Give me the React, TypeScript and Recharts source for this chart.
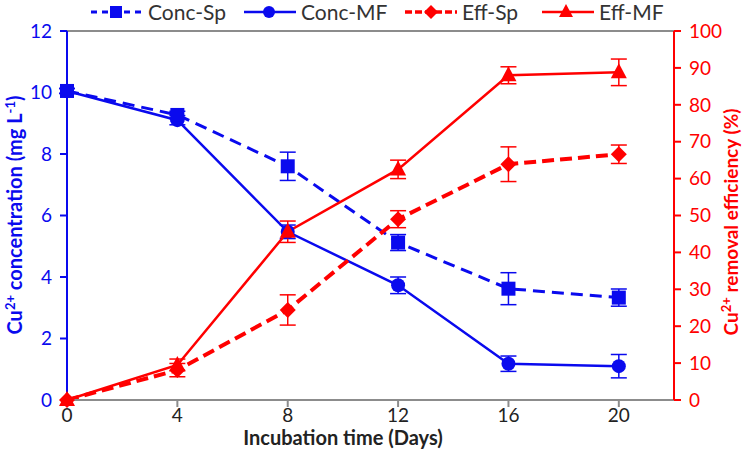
import React from 'react';
import {
  LineChart,
  Line,
  XAxis,
  YAxis,
  ErrorBar,
  ReferenceLine,
} from 'recharts';

const days = [0, 4, 8, 12, 16, 20];
const concSp = [10.05, 9.27, 7.6, 5.12, 3.62, 3.33];
const concSpErr = [0.08, 0.12, 0.46, 0.26, 0.52, 0.28];
const concMF = [10.05, 9.1, 5.47, 3.73, 1.18, 1.1];
const concMFErr = [0.08, 0.15, 0.22, 0.27, 0.25, 0.38];
const effSp = [0, 8.1, 24.4, 49, 63.9, 66.6];
const effSpErr = [0, 1.8, 4.1, 2.3, 4.7, 2.5];
const effMF = [0, 9.5, 45.6, 62.5, 88, 88.8];
const effMFErr = [0, 1.6, 2.9, 2.5, 2.3, 3.6];

const xTicks = [0, 4, 8, 12, 16, 20];
const leftTicks = [0, 2, 4, 6, 8, 10, 12];
const rightTicks = [0, 10, 20, 30, 40, 50, 60, 70, 80, 90, 100];

const BLUE = '#0a0aee';
const RED = '#ff0000';
const FONT = 'Lato, "Open Sans", sans-serif';

const data = days.map((d, i) => ({
  day: d,
  concSp: concSp[i],
  concSpErr: concSpErr[i],
  concMF: concMF[i],
  concMFErr: concMFErr[i],
  effSp: effSp[i],
  effSpErr: effSpErr[i],
  effMF: effMF[i],
  effMFErr: effMFErr[i],
}));

// marker shapes
const square = (props: any) => (
  <rect key={`sq-${props.index}`} x={props.cx - 7} y={props.cy - 7} width={14} height={14} fill={BLUE} />
);
const circle = (props: any) => (
  <circle key={`ci-${props.index}`} cx={props.cx} cy={props.cy} r={7} fill={BLUE} />
);
const diamond = (props: any) => {
  const { cx, cy } = props;
  return (
    <path key={`di-${props.index}`} d={`M${cx},${cy - 8} L${cx + 8},${cy} L${cx},${cy + 8} L${cx - 8},${cy} Z`} fill={RED} />
  );
};
const triangle = (props: any) => {
  const { cx, cy } = props;
  return (
    <path key={`tr-${props.index}`} d={`M${cx},${cy - 9} L${cx + 8},${cy + 6} L${cx - 8},${cy + 6} Z`} fill={RED} />
  );
};

const LeftTitle = () => (
  <text
    x={22}
    y={215}
    transform="rotate(-90 22 215)"
    textAnchor="middle"
    fill={BLUE}
    fontFamily={FONT}
    fontWeight="bold"
    fontSize={20}
  >
    Cu<tspan dy={-7} fontSize={13}>2+</tspan>
    <tspan dy={7}> concentration (mg L</tspan>
    <tspan dy={-7} fontSize={13}>-1</tspan>
    <tspan dy={7}>)</tspan>
  </text>
);

const RightTitle = () => (
  <text
    x={738}
    y={222}
    transform="rotate(-90 738 222)"
    textAnchor="middle"
    fill={RED}
    fontFamily={FONT}
    fontWeight="bold"
    fontSize={19}
  >
    Cu<tspan dy={-7} fontSize={13}>2+</tspan>
    <tspan dy={7}> removal efficiency (%)</tspan>
  </text>
);

const BottomTitle = () => (
  <text
    x={343}
    y={445}
    textAnchor="middle"
    fill="#222"
    fontFamily={FONT}
    fontWeight="bold"
    fontSize={20}
  >
    Incubation time (Days)
  </text>
);

const legendItems = [
  { name: 'Conc-Sp', color: BLUE, dash: '6 5', width: 3, shape: 'square', x: 90 },
  { name: 'Conc-MF', color: BLUE, dash: undefined, width: 2.5, shape: 'circle', x: 243 },
  { name: 'Eff-Sp', color: RED, dash: '7 3', width: 3.5, shape: 'diamond', x: 404 },
  { name: 'Eff-MF', color: RED, dash: undefined, width: 2.5, shape: 'triangle', x: 541 },
];

const LegendIcon = ({ item }: any) => {
  const c = item.color;
  let marker: any = null;
  if (item.shape === 'square') marker = <rect x={20} y={5} width={12} height={12} fill={c} />;
  if (item.shape === 'circle') marker = <circle cx={26} cy={11} r={6} fill={c} />;
  if (item.shape === 'diamond') marker = <path d="M27,4 L34,11 L27,18 L20,11 Z" fill={c} />;
  if (item.shape === 'triangle') marker = <path d="M25,3 L32,16 L18,16 Z" fill={c} />;
  return (
    <svg width={54} height={22} style={{ display: 'block' }}>
      <line x1={1} y1={11} x2={53} y2={11} stroke={c} strokeWidth={item.width} strokeDasharray={item.dash} />
      {marker}
    </svg>
  );
};

const ChartLegend = () => (
  <div style={{ position: 'absolute', top: 1, left: 0, fontFamily: FONT, fontSize: 21, color: '#333' }}>
    {legendItems.map((item) => (
      <div
        key={item.name}
        style={{ position: 'absolute', left: item.x, top: 0, display: 'flex', alignItems: 'center', gap: 4, whiteSpace: 'nowrap' }}
      >
        <LegendIcon item={item} />
        <span style={{ lineHeight: '22px' }}>{item.name}</span>
      </div>
    ))}
  </div>
);

export default function App() {
  return (
    <div style={{ position: 'absolute', left: 0, top: 0, width: 752, height: 460, background: '#fff' }}>
      <LineChart
        width={752}
        height={460}
        data={data}
        margin={{ top: 31, right: 0, bottom: 0, left: 0 }}
      >
        <XAxis
          dataKey="day"
          type="number"
          domain={[0, 22]}
          ticks={xTicks}
          height={60}
          stroke="#8c8c8c"
          strokeWidth={2}
          tickSize={7}
          tick={{ fill: '#222', fontSize: 19, fontFamily: FONT }}
          label={<BottomTitle />}
        />
        <YAxis
          yAxisId="left"
          domain={[0, 12]}
          ticks={leftTicks}
          width={67}
          stroke={BLUE}
          strokeWidth={2}
          tickSize={7}
          tick={{ fill: BLUE, fontSize: 19, fontFamily: FONT, dx: -6 }}
          label={<LeftTitle />}
        />
        <YAxis
          yAxisId="right"
          orientation="right"
          domain={[0, 100]}
          ticks={rightTicks}
          width={78}
          stroke={RED}
          strokeWidth={2}
          tickSize={7}
          tick={{ fill: RED, fontSize: 19, fontFamily: FONT, dx: 6 }}
          label={<RightTitle />}
        />
        <ReferenceLine yAxisId="left" y={12} stroke="#8c8c8c" strokeWidth={2} />
        <Line
          yAxisId="left"
          dataKey="concMF"
          stroke={BLUE}
          strokeWidth={2.5}
          dot={circle}
          activeDot={false}
          isAnimationActive={false}
        >
          <ErrorBar dataKey="concMFErr" direction="y" width={8} stroke={BLUE} strokeWidth={1.5} />
        </Line>
        <Line
          yAxisId="left"
          dataKey="concSp"
          stroke={BLUE}
          strokeWidth={3}
          strokeDasharray="12 7"
          dot={square}
          activeDot={false}
          isAnimationActive={false}
        >
          <ErrorBar dataKey="concSpErr" direction="y" width={8} stroke={BLUE} strokeWidth={1.5} />
        </Line>
        <Line
          yAxisId="right"
          dataKey="effSp"
          stroke={RED}
          strokeWidth={4}
          strokeDasharray="12 6"
          dot={diamond}
          activeDot={false}
          isAnimationActive={false}
        >
          <ErrorBar dataKey="effSpErr" direction="y" width={8} stroke={RED} strokeWidth={1.5} />
        </Line>
        <Line
          yAxisId="right"
          dataKey="effMF"
          stroke={RED}
          strokeWidth={2.5}
          dot={triangle}
          activeDot={false}
          isAnimationActive={false}
        >
          <ErrorBar dataKey="effMFErr" direction="y" width={8} stroke={RED} strokeWidth={1.5} />
        </Line>
      </LineChart>
      <ChartLegend />
    </div>
  );
}
